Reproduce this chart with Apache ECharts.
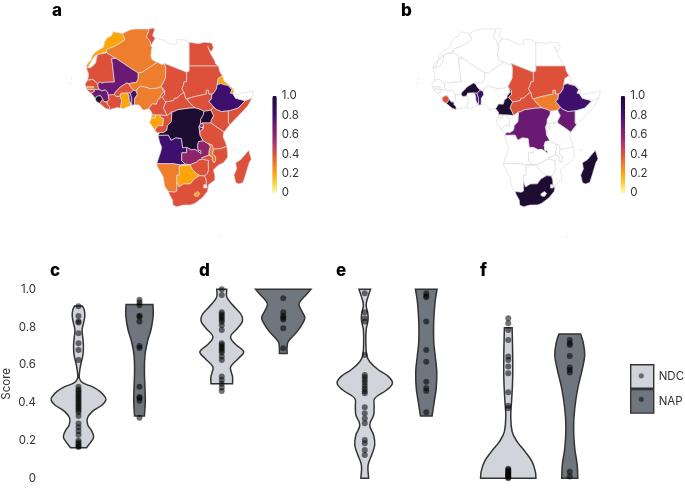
<!DOCTYPE html>
<html>
<head>
<meta charset="utf-8">
<style>html,body{margin:0;padding:0;background:#fff}#main{width:685px;height:488px}</style>
<script src="https://cdn.jsdelivr.net/npm/echarts@6/dist/echarts.min.js"></script>
</head>
<body>
<div id="main"></div>
<script>
// country outlines, lon/lat, coarse
var countryRings = {
  'Morocco': [[-5.9,35.8],[-2.2,35.1],[-1.2,32.6],[-3.6,31],[-5.5,29.9],[-8.7,28.7],[-8.7,27.7],[-11.8,26.8],[-13.5,25.8],[-14.8,24],[-16,21.8],[-17,21.2],[-16.9,22.3],[-16,23.5],[-15,24.5],[-14.5,26.2],[-13,27.8],[-11,28.9],[-9.8,29.8],[-9.6,31.5],[-8.5,33.3],[-6.8,34.1]],
  'Western Sahara': [[-16,21.8],[-15,21.4],[-13.2,23.2],[-12.4,26.6],[-13.5,25.8],[-14.8,24]],
  'Algeria': [[-2.2,35.1],[1,36.6],[3,36.9],[8.6,36.9],[8.2,35.2],[7.5,33.8],[9,32.1],[9.5,30.2],[9.9,29.5],[9.4,26.2],[10,24.5],[12,23.5],[5.8,19.45],[4.2,19.15],[3.2,19.8],[1.1,21.1],[-4.8,25],[-8.7,27.3],[-8.7,28.7],[-5.5,29.9],[-3.6,31],[-1.2,32.6]],
  'Tunisia': [[8.6,36.9],[10.2,37.3],[11,36.9],[10.5,35.5],[10.1,34.3],[11.1,33.2],[11.5,33.1],[10.3,31.7],[9.5,30.2],[9,32.1],[7.5,33.8],[8.2,35.2]],
  'Libya': [[11.5,33.1],[15.2,32.3],[16,31.3],[18,30.7],[20,30.9],[20,32.6],[23,32.6],[25,31.6],[25,20],[24,19.5],[15,23],[14,22.5],[12,23.5],[10,24.5],[9.4,26.2],[9.9,29.5],[9.5,30.2],[10.3,31.7]],
  'Egypt': [[25,31.6],[29,31],[31,31.6],[34.2,31.3],[34.9,29.5],[34.2,27.8],[33.1,28.5],[32.6,29.9],[33.9,26.7],[35.5,24],[35.7,23],[37,22],[25,22]],
  'Mauritania': [[-17,21.2],[-15,21.4],[-13.2,23.2],[-12.4,26.6],[-8.7,27.3],[-4.8,25],[-6.6,25],[-5.5,15.5],[-9.5,15.4],[-10.7,15.1],[-11.4,15.6],[-12.3,14.8],[-14.4,16.6],[-16.5,16.2],[-16.1,18],[-16.2,19.2]],
  'Senegal': [[-16.5,16.2],[-14.4,16.6],[-12.3,14.8],[-12.1,13.2],[-11.4,12.4],[-13.7,12.6],[-16.7,12.4],[-17.5,14.7]],
  'Gambia': [[-16.8,13.7],[-14,13.7],[-14,13.1],[-16.8,13.1]],
  'Guinea-Bissau': [[-16.7,12.4],[-13.7,12.6],[-13.7,11.7],[-15,11],[-16.2,11.8]],
  'Guinea': [[-13.7,12.6],[-11.4,12.4],[-10.7,12],[-9.3,12.4],[-8.3,11.5],[-8,10.3],[-7.7,8.4],[-8.5,7.6],[-9.4,7.4],[-10.3,8.5],[-10.7,9.3],[-11.2,10],[-12.4,9.9],[-13.3,9],[-15,11],[-13.7,11.7]],
  'Sierra Leone': [[-13.3,9],[-12.4,9.9],[-11.2,10],[-10.7,9.3],[-10.3,8.5],[-11.5,6.9],[-13,7.8]],
  'Liberia': [[-11.5,6.9],[-10.3,8.5],[-9.4,7.4],[-8.5,7.6],[-8.3,6.4],[-7.5,5.6],[-7.5,4.4],[-9.2,5]],
  "Cote d'Ivoire": [[-8,10.3],[-6.2,10.5],[-5.5,10.4],[-4.7,9.7],[-3.2,9.9],[-2.5,8.2],[-3,5.1],[-4.5,5.2],[-7.5,4.4],[-7.5,5.6],[-8.3,6.4],[-8.5,7.6],[-7.7,8.4]],
  'Mali': [[-4.8,25],[1.1,21.1],[3.2,19.8],[4.2,19.15],[4.2,16.85],[3.5,15.4],[0.3,14.9],[-0.5,15.1],[-2,14.2],[-3,13.6],[-4.4,12.1],[-5.2,11.4],[-5.5,10.4],[-6.2,10.5],[-8,10.3],[-8.3,11.5],[-9.3,12.4],[-10.7,12],[-11.4,12.4],[-12.1,13.2],[-12.3,14.8],[-11.4,15.6],[-10.7,15.1],[-9.5,15.4],[-5.5,15.5],[-6.6,25]],
  'Burkina Faso': [[-5.5,10.4],[-5.2,11.4],[-4.4,12.1],[-3,13.6],[-2,14.2],[-0.5,15.1],[0.3,14.9],[1.3,13.3],[2.4,12.3],[1,11],[-0.1,11.1],[-2.8,11],[-3.2,9.9],[-4.7,9.7]],
  'Ghana': [[-2.8,11],[-0.1,11.1],[0.4,10],[0.6,8],[1.2,6.1],[-2,4.8],[-3,5.1],[-2.5,8.2],[-3.2,9.9]],
  'Togo': [[-0.1,11.1],[1,11],[1.6,9],[1.6,6.2],[1.2,6.1],[0.6,8],[0.4,10]],
  'Benin': [[1,11],[2.4,12.3],[3.6,11.7],[3.8,10.4],[2.8,9],[2.7,6.4],[1.6,6.2],[1.6,9]],
  'Niger': [[12,23.5],[14,22.5],[15,23],[15.5,21],[15.3,17],[13.6,13.7],[13,13.5],[12.3,13.1],[9,12.8],[7.8,13.3],[6.7,13.5],[5.4,13.9],[3.7,12.7],[3.6,11.7],[2.4,12.3],[1.3,13.3],[0.3,14.9],[3.5,15.4],[4.2,16.85],[4.2,19.15],[5.8,19.45]],
  'Nigeria': [[2.7,6.4],[2.8,9],[3.8,10.4],[3.6,11.7],[3.7,12.7],[5.4,13.9],[6.7,13.5],[7.8,13.3],[9,12.8],[12.3,13.1],[13,13.5],[13.6,13.7],[14.2,12.5],[14.6,11.5],[13.3,10],[13.2,9],[12.2,8.4],[11.7,6.6],[9.8,6.7],[8.6,4.8],[7,4.4],[6,4.3],[5,5.8],[4.4,6.3]],
  'Cameroon': [[8.6,4.8],[9.8,6.7],[11.7,6.6],[12.2,8.4],[13.2,9],[13.3,10],[14.6,11.5],[14.2,12.5],[14.1,13.1],[15,12.2],[15.1,10.5],[13.9,9.5],[15.5,7.5],[14.5,5],[15.1,4],[16,2],[13.3,2.2],[9.8,2.3],[9.8,3.2]],
  'Chad': [[15,23],[24,19.5],[24,15.7],[22.9,15.5],[22.6,14],[22,12.9],[22.9,11.3],[21.7,10.6],[20.1,9.1],[18.9,8.9],[18.6,8],[15.5,7.5],[13.9,9.5],[15.1,10.5],[15,12.2],[14.1,13.1],[13.6,13.7],[15.3,17],[15.5,21]],
  'Sudan': [[25,22],[37,22],[37.4,20],[38.6,18],[36.9,17],[36.4,14.4],[36.1,12.7],[34.9,10.9],[34.3,10.6],[33,10.7],[32.9,12.2],[32,12.2],[32,10.7],[27,9.6],[24,8.7],[23.5,9],[22.9,11.3],[22,12.9],[22.6,14],[22.9,15.5],[24,15.7],[24,19.5],[25,20]],
  'South Sudan': [[24,8.7],[27,9.6],[32,10.7],[32,12.2],[32.9,12.2],[33,10.7],[34.3,10.6],[34,8.5],[33,7.9],[35,5.4],[33.9,4.2],[31,3.7],[29.6,4.5],[27.4,5.1],[25.3,7]],
  'Eritrea': [[38.6,18],[39.3,15.9],[41,14.5],[43.1,12.7],[42.4,12.5],[40.9,14.1],[39,14.5],[37.9,14.9],[36.4,14.4],[36.9,17]],
  'Djibouti': [[43.1,12.7],[43.3,11.5],[42.8,10.9],[41.8,11],[42.4,12.5]],
  'Ethiopia': [[36.4,14.4],[37.9,14.9],[39,14.5],[40.9,14.1],[42.4,12.5],[41.8,11],[42.8,10.9],[44,9],[47.9,8],[45,5],[42,4.1],[41,3.9],[38.1,3.6],[36,4.5],[35,5.4],[33,7.9],[34,8.5],[34.3,10.6],[34.9,10.9],[36.1,12.7]],
  'Somaliland': [[43.3,11.5],[44.5,10.4],[47,11.2],[48.9,11.4],[51.3,11.9],[51,10.4],[50.6,9],[47.9,8],[44,9],[42.8,10.9]],
  'Somalia': [[50.6,9],[49,6],[47,3.8],[41.6,-1.7],[41,-0.9],[41,3.9],[42,4.1],[45,5],[47.9,8]],
  'Central African Republic': [[14.5,5],[15.5,7.5],[18.6,8],[18.9,8.9],[20.1,9.1],[21.7,10.6],[22.9,11.3],[23.5,9],[24,8.7],[25.3,7],[27.4,5.1],[25,5],[22.8,4.7],[20.5,4.4],[18.6,3.5],[18,3.5],[16,2],[15.1,4]],
  'Equatorial Guinea': [[9.8,2.3],[11.3,2.2],[11.3,1],[9.6,1]],
  'Gabon': [[9.6,1],[11.3,1],[11.3,2.2],[13.3,2.2],[13.2,1.2],[14.5,0.9],[14.4,-1],[14.2,-2.2],[12.5,-2],[11.6,-3],[11,-3.9],[8.8,-0.7]],
  'Congo': [[13.3,2.2],[16,2],[18,3.5],[17.7,-0.5],[16.2,-2],[15.9,-3.9],[14.4,-4.9],[13,-4.8],[12,-5],[11,-3.9],[11.6,-3],[12.5,-2],[14.2,-2.2],[14.4,-1],[14.5,0.9],[13.2,1.2]],
  'DR Congo': [[18.6,3.5],[20.5,4.4],[22.8,4.7],[25,5],[27.4,5.1],[29.6,4.5],[31,3.7],[30.8,2.3],[29.7,0.5],[29.6,-1.4],[29,-2.5],[29.2,-4.4],[29.5,-6],[30.8,-8.2],[28.9,-8.5],[28.4,-10],[28.7,-12],[29.8,-12.2],[29.8,-13.4],[28.4,-12.2],[27.2,-11.6],[25.9,-11.8],[24.3,-11],[23.9,-10.8],[22.3,-11],[21.8,-7.3],[19.5,-7],[17.6,-8],[16.5,-5.9],[12.3,-6],[13,-4.8],[14.4,-4.9],[15.9,-3.9],[16.2,-2],[17.7,-0.5],[18,3.5]],
  'Angola': [[12.3,-6],[16.5,-5.9],[17.6,-8],[19.5,-7],[21.8,-7.3],[22.3,-11],[23.9,-10.8],[24,-13],[22,-13],[22,-16.2],[23.4,-17.6],[21.4,-17.9],[18.5,-17.4],[14,-17.4],[11.8,-17.3],[13.4,-12.6],[13.8,-10.7],[13,-9]],
  'Zambia': [[30.8,-8.2],[33,-9.4],[33.7,-10.6],[33.2,-12],[33,-14],[30.2,-15],[30.4,-15.6],[29,-15.9],[28,-16.8],[25.3,-17.8],[23.4,-17.6],[22,-16.2],[22,-13],[24,-13],[23.9,-10.8],[24.3,-11],[25.9,-11.8],[27.2,-11.6],[28.4,-12.2],[29.8,-13.4],[29.8,-12.2],[28.7,-12],[28.4,-10],[28.9,-8.5]],
  'Uganda': [[31,3.7],[33.9,4.2],[35,1.9],[34,0],[33.9,-1],[30.5,-1],[29.6,-1.4],[29.7,0.5],[30.8,2.3]],
  'Rwanda': [[30.5,-1],[30.9,-2.3],[30,-2.8],[29,-2.5],[29.6,-1.4]],
  'Burundi': [[29,-2.5],[30,-2.8],[30.8,-3.3],[29.4,-4.4],[29.2,-4.4]],
  'Kenya': [[34,0],[35,1.9],[33.9,4.2],[35,5.4],[36,4.5],[38.1,3.6],[41,3.9],[41,-0.9],[41.6,-1.7],[39.2,-4.7],[37.7,-3.6],[33.9,-1]],
  'Tanzania': [[30.5,-1],[33.9,-1],[37.7,-3.6],[39.2,-4.7],[38.8,-6.5],[39.5,-8],[40.4,-10.4],[38,-11.3],[34.9,-11.6],[34.3,-9.8],[33,-9.4],[30.8,-8.2],[29.5,-6],[29.4,-4.4],[30.8,-3.3],[30.9,-2.3]],
  'Malawi': [[33,-9.4],[34.3,-9.8],[34.9,-11.6],[34.6,-13.5],[35.8,-14.5],[35.8,-16],[35.3,-17.1],[34.3,-15.9],[34.5,-14.6],[33.2,-14],[33,-14],[33.2,-12],[33.7,-10.6]],
  'Mozambique': [[34.9,-11.6],[38,-11.3],[40.4,-10.4],[40.8,-14.7],[39,-17],[36.9,-18],[34.9,-19.9],[35.5,-22],[35.5,-24],[32.9,-25.9],[32.8,-26.9],[32,-26.8],[31.9,-24],[31.3,-22.4],[32.4,-21.3],[32.9,-19.7],[32.7,-17.5],[33,-16.2],[30.4,-15.6],[30.2,-15],[33,-14],[33.2,-14],[34.5,-14.6],[34.3,-15.9],[35.3,-17.1],[35.8,-16],[35.8,-14.5],[34.6,-13.5]],
  'Zimbabwe': [[25.3,-17.8],[28,-16.8],[29,-15.9],[30.4,-15.6],[33,-16.2],[32.7,-17.5],[32.9,-19.7],[32.4,-21.3],[31.3,-22.4],[29.4,-22.2],[28,-21.5],[26.2,-19.6]],
  'Namibia': [[11.8,-17.3],[14,-17.4],[18.5,-17.4],[21.4,-17.9],[23.4,-17.6],[25.3,-17.8],[24.5,-18],[21,-18.3],[21,-22],[20,-22],[20,-28.4],[19,-28.9],[16.5,-28.6],[15,-26.5],[14.5,-22.9],[12,-18.5]],
  'Botswana': [[21,-18.3],[24.5,-18],[25.3,-17.8],[26.2,-19.6],[28,-21.5],[29.4,-22.2],[27,-23.6],[25.6,-25.5],[22.7,-25.6],[20.8,-26.8],[20,-24.8],[20,-22],[21,-22]],
  'South Africa': [[16.5,-28.6],[19,-28.9],[20,-28.4],[20,-24.8],[20.8,-26.8],[22.7,-25.6],[25.6,-25.5],[27,-23.6],[29.4,-22.2],[31.3,-22.4],[31.9,-24],[32,-26.8],[32.8,-26.9],[32.5,-28.5],[30.5,-31],[27.5,-33.3],[25.7,-34],[22.5,-34.1],[20,-34.8],[18.4,-34.1],[18.2,-32],[17,-29.9]],
  'Lesotho': [[27,-29.6],[28.5,-28.6],[29.4,-29.4],[28.5,-30.6],[27.3,-30.4]],
  'Eswatini': [[31,-25.8],[32,-26],[32,-27.2],[31,-27.2]],
  'Madagascar': [[49.3,-12],[50.4,-15.5],[49.5,-17],[48,-22],[47,-25],[45.2,-25.6],[44,-25],[43.3,-22],[44.4,-19.5],[44,-17],[46,-15.8],[48,-13.5]],
  'Santo Antao': [[-25.3,17.2],[-25,17.2],[-25,16.9],[-25.3,16.9]],
  'Sal': [[-23.1,16.9],[-22.8,16.9],[-22.8,16.5],[-23.1,16.5]],
  'Santiago': [[-23.8,15.3],[-23.4,15.3],[-23.4,14.9],[-23.8,14.9]],
  'Sao Tome': [[6.5,0.4],[6.8,0.4],[6.8,0.1],[6.5,0.1]],
  'Bioko': [[8.5,3.8],[8.9,3.8],[8.9,3.3],[8.5,3.3]],
  'Comoros': [[43.3,-11.4],[43.6,-11.4],[43.6,-11.9],[43.3,-11.9]],
  'Mayotte': [[45,-12.7],[45.3,-12.7],[45.3,-13],[45,-13]],
  'Prince Edward Islands': [[37.5,-46.7],[37.9,-46.7],[37.9,-47],[37.5,-47]]
};

// panel a scores
var ndcCountries = ['Morocco','Algeria','Tunisia','Egypt','Mauritania','Senegal','Gambia','Guinea-Bissau','Guinea','Sierra Leone','Liberia',"Cote d'Ivoire",'Mali','Burkina Faso','Ghana','Togo','Benin','Niger','Nigeria','Cameroon','Chad','Sudan','South Sudan','Eritrea','Djibouti','Ethiopia','Somalia','Central African Republic','Equatorial Guinea','Gabon','Congo','DR Congo','Angola','Zambia','Uganda','Rwanda','Burundi','Kenya','Tanzania','Malawi','Mozambique','Zimbabwe','Namibia','Botswana','South Africa','Lesotho','Madagascar'];
var ndcScores = [0.2,0.3,0.4,0.4,0.4,0.4,0.2,0.4,0.7,1.0,0.4,0.4,0.7,0.4,0.2,0.7,0.8,0.3,0.3,0.4,0.4,0.4,0.4,0.2,0.2,0.8,0.4,0.4,0.2,0.2,0.4,1.0,0.8,0.6,1.0,0.6,0.7,0.4,0.4,0.3,0.4,0.4,0.3,0.2,0.4,0.2,0.4];

// panel b scores
var napCountries = ['Burkina Faso','Togo','Benin','Sierra Leone','Liberia','Cameroon','Chad','Sudan','Central African Republic','South Sudan','Ethiopia','Kenya','DR Congo','Madagascar','South Africa'];
var napScores = [1.0,0.8,0.8,0.4,1.0,1.0,0.4,0.4,0.4,0.3,0.8,0.7,0.7,1.0,1.0];

var colorbarTicks = [0,0.2,0.4,0.6,0.8,1.0];
var colorStops = ['#fcffa4','#fbd13d','#fca50a','#ef7d2e','#dd513a','#b5366b','#8e2469','#6a1a73','#3f0f6e','#2c0d55','#1f0c33'];

var panelNames = ['c','d','e','f'];
var groupNames = ['NDC','NAP'];

// violin outlines: [score, relative width]
var violinC = [
  [[0.912,0.14],[0.89,0.21],[0.859,0.23],[0.82,0.18],[0.785,0.13],[0.74,0.16],[0.697,0.18],[0.652,0.16],[0.608,0.09],[0.564,0.04],[0.526,0.04],[0.503,0.18],[0.485,0.5],[0.459,0.79],[0.432,0.96],[0.414,1],[0.388,0.86],[0.353,0.5],[0.317,0.32],[0.282,0.34],[0.256,0.46],[0.22,0.55],[0.194,0.46],[0.162,0.29]],
  [[0.92,0.49],[0.864,0.5],[0.794,0.43],[0.723,0.29],[0.652,0.2],[0.564,0.18],[0.476,0.2],[0.406,0.21],[0.33,0.18]]
];
var violinD = [
  [[1,0.18],[0.961,0.18],[0.935,0.29],[0.9,0.5],[0.864,0.71],[0.832,0.75],[0.794,0.57],[0.75,0.32],[0.714,0.46],[0.679,0.75],[0.665,0.79],[0.635,0.61],[0.59,0.32],[0.564,0.34],[0.538,0.39],[0.5,0.39]],
  [[1,1],[0.97,0.82],[0.935,0.61],[0.917,0.57],[0.882,0.68],[0.85,0.78],[0.82,0.7],[0.776,0.5],[0.723,0.18],[0.695,0.14],[0.66,0.14]]
];
var violinE = [
  [[1,0.21],[0.961,0.12],[0.917,0.05],[0.873,0.11],[0.838,0.12],[0.785,0.05],[0.723,0.04],[0.652,0.07],[0.617,0.18],[0.573,0.5],[0.538,0.86],[0.503,1],[0.467,0.79],[0.423,0.36],[0.379,0.34],[0.335,0.32],[0.282,0.18],[0.229,0.32],[0.176,0.36],[0.123,0.25],[0.07,0.12],[0,0.14]],
  [[1,0.39],[0.935,0.32],[0.829,0.27],[0.723,0.27],[0.652,0.32],[0.564,0.38],[0.476,0.36],[0.406,0.29],[0.33,0.21]]
];
var violinF = [
  [[0.797,0.14],[0.652,0.16],[0.53,0.16],[0.406,0.12],[0.335,0.09],[0.247,0.14],[0.194,0.32],[0.141,0.61],[0.088,0.86],[0.035,0.98],[0,1]],
  [[0.764,0.39],[0.723,0.48],[0.652,0.54],[0.582,0.46],[0.476,0.29],[0.37,0.18],[0.265,0.14],[0.159,0.18],[0.07,0.27],[0,0.29]]
];

// per country or plan scores shown as dots
var dotsC = [
  [0.91,0.859,0.829,0.825,0.767,0.714,0.679,0.626,0.485,0.47,0.46,0.45,0.44,0.43,0.42,0.41,0.4,0.39,0.38,0.37,0.36,0.35,0.33,0.29,0.27,0.25,0.23,0.2,0.19,0.18,0.17,0.165],
  [0.945,0.93,0.915,0.86,0.855,0.83,0.7,0.69,0.485,0.43,0.425,0.41,0.32]
];
var dotsD = [
  [1,0.97,0.878,0.868,0.858,0.848,0.838,0.828,0.81,0.785,0.714,0.705,0.695,0.685,0.675,0.665,0.645,0.626,0.538,0.52,0.5,0.48,0.462],
  [0.952,0.878,0.86,0.85,0.84,0.794,0.688]
];
var dotsE = [
  [0.979,0.878,0.847,0.829,0.652,0.547,0.535,0.52,0.505,0.49,0.475,0.46,0.45,0.376,0.344,0.317,0.291,0.203,0.185,0.15,0.123],
  [0.979,0.966,0.958,0.829,0.679,0.617,0.511,0.476,0.462,0.349]
];
var dotsF = [
  [0.847,0.82,0.785,0.732,0.644,0.626,0.591,0.556,0.455,0.384,0.37,0.05,0.045,0.04,0.035,0.03,0.025,0.02,0.015,0.01,0.005,0],
  [0.732,0.714,0.705,0.647,0.586,0.573,0.56,0.035,0.01]
];
var violins = [violinC, violinD, violinE, violinF];
var dots = [dotsC, dotsD, dotsE, dotsF];

var fontName = 'Inter';
var textColor = '#333';
var ndcColor = '#d1d5db', napColor = '#6f767d', strokeColor = '#333';
var panelLeft = [47, 191, 334, 477.5];
var letterPos = [['a',52,2],['b',401,2],['c',50,262],['d',199,262],['e',336,262],['f',480,262]];

var chart = echarts.init(document.getElementById('main'), null, {renderer:'canvas'});

var features = Object.keys(countryRings).map(function(name){
  return {type:'Feature', properties:{name:name}, geometry:{type:'Polygon', coordinates:[countryRings[name].concat([countryRings[name][0]])]}};
});
echarts.registerMap('africaNdc', {type:'FeatureCollection', features:features});
echarts.registerMap('africaNap', {type:'FeatureCollection', features:features});

function mapSeries(mapName, left, names, scores){
  return {
    type:'map', map:mapName, roam:false, silent:true,
    aspectScale:0.99,
    boundingCoords:[[-28,38],[58,-48]],
    left:left, top:26.3, width:210.7, height:213.3,
    showLegendSymbol:false,
    label:{show:false},
    emphasis:{disabled:true},
    select:{disabled:true},
    itemStyle:{areaColor:'#fff', borderColor:'#dcdcdc', borderWidth:0.7},
    data:names.map(function(n,i){ return {name:n, value:scores[i]}; })
  };
}

function violinSeries(p, g){
  var profile = violins[p][g];
  return {
    type:'custom', name:groupNames[g], xAxisIndex:p, yAxisIndex:p, silent:true, z:2,
    clip:false,
    itemStyle:{color:g===0?ndcColor:napColor},
    data:[[g, profile[0][0]]],
    renderItem:function(params, api){
      var band = api.size([1,0])[0];
      var right = [], left = [];
      profile.forEach(function(row, i){
        var c = api.coord([g, row[0]]);
        var w = row[1]*band*0.45;
        right.push([c[0]+w, c[1]]);
        left.unshift([c[0]-w, c[1]]);
        // doubled end points keep the flat cut corners sharp
        if(i===0 || i===profile.length-1){
          right.push([c[0]+w, c[1]]);
          left.unshift([c[0]-w, c[1]]);
        }
      });
      return {
        type:'polygon',
        shape:{points:right.concat(left), smooth:0.4},
        style:{fill:g===0?ndcColor:napColor, stroke:strokeColor, lineWidth:1.5}
      };
    }
  };
}

function dotSeries(p, g){
  return {
    type:'scatter', xAxisIndex:p, yAxisIndex:p, silent:true, z:3, clip:false,
    symbolSize:6,
    itemStyle:{color:'#000', opacity:0.55},
    data:dots[p][g].map(function(v){ return [g, v]; })
  };
}

var grids = [], xAxes = [], yAxes = [], series = [];
series.push(mapSeries('africaNdc', 59.3, ndcCountries, ndcScores));
series.push(mapSeries('africaNap', 406, napCountries, napScores));

panelNames.forEach(function(name, p){
  grids.push({left:panelLeft[p], top:289.3, width:123, height:189});
  xAxes.push({gridIndex:p, type:'category', data:groupNames, show:false});
  yAxes.push({
    gridIndex:p, type:'value', min:0, max:1, interval:0.2, show:p===0,
    name:p===0?'Score':'', nameLocation:'center', nameGap:35,
    nameTextStyle:{fontFamily:fontName, fontSize:11.5, color:textColor},
    axisLine:{show:false}, axisTick:{show:false}, splitLine:{show:false},
    axisLabel:{margin:12, fontFamily:fontName, fontSize:11.5, color:textColor,
      formatter:function(v){ return v===0?'0':v.toFixed(1); }}
  });
  series.push(violinSeries(p,0), violinSeries(p,1), dotSeries(p,0), dotSeries(p,1));
});

// colour bar tick labels, one axis beside each bar
[272.3, 620.7].forEach(function(left, i){
  var g = grids.length;
  grids.push({left:left, top:95.7, width:4.5, height:97.3});
  xAxes.push({gridIndex:g, type:'value', show:false, min:0, max:1});
  yAxes.push({
    gridIndex:g, type:'value', position:'right', min:0, max:1, interval:0.2, z:10,
    axisLine:{show:false}, splitLine:{show:false},
    axisTick:{show:true, inside:true, length:1.5, lineStyle:{color:'#fff', width:0.5}},
    axisLabel:{margin:5, fontFamily:fontName, fontSize:11.5, color:textColor,
      formatter:function(v){ return v===0?'0':v.toFixed(1); }}
  });
});

function colorBar(left, idx){
  return {
    type:'continuous', seriesIndex:idx, min:0, max:1, left:left, top:95.7,
    itemWidth:4.5, itemHeight:97.3, padding:0, calculable:false, text:null,
    hoverLink:false, realtime:false, inRange:{color:colorStops}, z:1
  };
}

chart.setOption({
  animation:false,
  backgroundColor:'#fff',
  title:letterPos.map(function(t){
    return {text:t[0], left:t[1], top:t[2], padding:0,
      textStyle:{fontFamily:fontName, fontSize:17, fontWeight:800, color:'#000'}};
  }),
  grid:grids, xAxis:xAxes, yAxis:yAxes,
  visualMap:[colorBar(272.3,0), colorBar(620.7,1)],
  legend:{
    orient:'vertical', left:630, top:364, padding:0, itemGap:0, itemWidth:23, itemHeight:23.5,
    selectedMode:false, icon:'rect',
    textStyle:{fontFamily:fontName, fontSize:11.5, color:textColor},
    data:[
      {name:'NDC', itemStyle:{color:ndcColor, borderColor:strokeColor, borderWidth:1.4}},
      {name:'NAP', itemStyle:{color:napColor, borderColor:strokeColor, borderWidth:1.4}}
    ]
  },
  graphic:[
    {type:'circle', shape:{cx:641.3, cy:375.8, r:2.6}, style:{fill:'#000', opacity:0.5}, silent:true, z:100},
    {type:'circle', shape:{cx:641.3, cy:399.3, r:2.6}, style:{fill:'#000', opacity:0.5}, silent:true, z:100}
  ],
  series:series
});
</script>
</body>
</html>
